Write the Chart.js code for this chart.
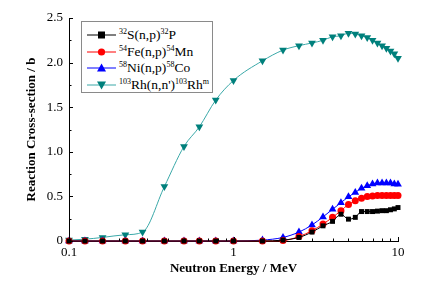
<!DOCTYPE html>
<html>
<head>
<meta charset="utf-8">
<script src="https://cdn.jsdelivr.net/npm/chart.js@4/dist/chart.umd.min.js"></script>
<style>
  html, body { margin: 0; padding: 0; background: #fff; }
  #wrap { position: relative; width: 436px; height: 284px; }
  #legend {
    position: absolute; left: 81px; top: 21px; width: 130px; height: 70px;
    border: 1px solid #8a8a8a; background: #fff;
    font-family: "Liberation Serif", "DejaVu Serif", serif; font-size: 13.5px; color: #000;
  }
  #legend .row { position: absolute; left: 0; height: 17px; line-height: 17px; white-space: nowrap; }
  #legend svg { position: absolute; left: 5px; top: 2px; }
  #legend .txt { position: absolute; left: 37px; top: 0; }
  #legend sup { font-size: 8px; vertical-align: 5px; line-height: 0; }
</style>
</head>
<body>
<div id="wrap">
  <canvas id="chart" width="436" height="284"></canvas>
  <div id="legend"></div>
</div>
<script>
(function(){
    // neutron energies (MeV)
    var energy = [0.1, 0.125, 0.16, 0.22, 0.28, 0.38, 0.5, 0.62, 0.78, 1.0,
                  1.5, 2.0, 2.5, 3.0, 3.5, 4.0, 4.5, 5.0, 5.5, 6.0, 6.5, 7.0, 7.5, 8.0, 8.5, 9.0, 9.5, 10.0];

    var s32 = [0, 0, 0, 0, 0, 0, 0, 0, 0, 0,
               0, 0.01, 0.04, 0.10, 0.17, 0.22, 0.30, 0.245, 0.265, 0.33, 0.33, 0.33, 0.335, 0.34, 0.34, 0.35, 0.36, 0.375];
    var fe54 = [0, 0, 0, 0, 0, 0, 0, 0, 0, 0,
                0, 0.005, 0.05, 0.115, 0.19, 0.265, 0.34, 0.41, 0.45, 0.48, 0.50, 0.505, 0.51, 0.51, 0.51, 0.51, 0.51, 0.51];
    var ni58 = [0, 0, 0, 0, 0, 0, 0, 0, 0, 0,
                0.01, 0.04, 0.10, 0.18, 0.27, 0.355, 0.43, 0.495, 0.545, 0.59, 0.62, 0.64, 0.65, 0.65, 0.65, 0.65, 0.64, 0.635];
    var rh103 = [0.01, 0.02, 0.04, 0.07, 0.10, 0.61, 1.06, 1.28, 1.58, 1.80,
                 2.02, 2.14, 2.19, 2.22, 2.25, 2.29, 2.30, 2.33, 2.32, 2.30, 2.28, 2.25, 2.22, 2.19, 2.16, 2.13, 2.10, 2.05];

    var seriesLabels = ['32S(n,p)32P', '54Fe(n,p)54Mn', '58Ni(n,p)58Co', "103Rh(n,n')103Rhm"];
    var legendHtml = ['<sup>32</sup>S(n,p)<sup>32</sup>P', '<sup>54</sup>Fe(n,p)<sup>54</sup>Mn',
                      '<sup>58</sup>Ni(n,p)<sup>58</sup>Co', "<sup>103</sup>Rh(n,n')<sup>103</sup>Rh<sup>m</sup>"];

    var xMajor = [0.1, 1, 10];
    var yMajor = [0, 0.5, 1.0, 1.5, 2.0, 2.5];

    function pts(ys) {
        return ys.map(function(y, i){ return {x: energy[i], y: y}; });
    }

    const serif = '"Liberation Serif", "DejaVu Serif", serif';

    const data = {
        datasets: [{
            label: seriesLabels[0],
            data: pts(s32),
            borderColor: '#000000',
            backgroundColor: '#000000',
            borderWidth: 1,
            pointStyle: 'rect',
            pointRadius: 3.5,
            pointBorderWidth: 0,
            cubicInterpolationMode: 'monotone',
            clip: false
        },{
            label: seriesLabels[1],
            data: pts(fe54),
            borderColor: '#ff0000',
            backgroundColor: '#ff0000',
            borderWidth: 1,
            pointStyle: 'circle',
            pointRadius: 3.5,
            pointBorderWidth: 0,
            cubicInterpolationMode: 'monotone',
            clip: false
        },{
            label: seriesLabels[2],
            data: pts(ni58),
            borderColor: '#0000ff',
            backgroundColor: '#0000ff',
            borderWidth: 1,
            pointStyle: 'triangle',
            pointRadius: 4.5,
            pointBorderWidth: 0,
            cubicInterpolationMode: 'monotone',
            clip: false
        },{
            label: seriesLabels[3],
            data: pts(rh103),
            borderColor: '#3aa8a8',
            backgroundColor: '#00807c',
            borderWidth: 1,
            pointStyle: 'triangle',
            pointRotation: 180,
            pointRadius: 4.5,
            pointBorderWidth: 0,
            cubicInterpolationMode: 'monotone',
            clip: false
        }]
    };

    // inward ticks like the original plot
    const innerTicks = {
        id: 'innerTicks',
        afterDraw(chart) {
            const ctx = chart.ctx;
            const xs = chart.scales.x, ys = chart.scales.y;
            const ca = chart.chartArea;
            ctx.save();
            ctx.strokeStyle = '#000';
            ctx.lineWidth = 1;
            ctx.beginPath();
            yMajor.forEach(function(v){
                const p = Math.round(ys.getPixelForValue(v)) + 0.5;
                ctx.moveTo(ca.left, p); ctx.lineTo(ca.left + 4, p);
            });
            for (let v = 0.25; v < 2.5; v += 0.5) {
                const p = Math.round(ys.getPixelForValue(v)) + 0.5;
                ctx.moveTo(ca.left, p); ctx.lineTo(ca.left + 2.5, p);
            }
            xMajor.forEach(function(v){
                const p = Math.round(xs.getPixelForValue(v)) + 0.5;
                ctx.moveTo(p, ca.bottom); ctx.lineTo(p, ca.bottom - 4);
            });
            [0.1, 1].forEach(function(d){
                for (let k = 2; k <= 9; k++) {
                    const p = Math.round(xs.getPixelForValue(d * k)) + 0.5;
                    ctx.moveTo(p, ca.bottom); ctx.lineTo(p, ca.bottom - 2.5);
                }
            });
            ctx.stroke();
            ctx.restore();
        }
    };

    const config = {
        type: 'line',
        data,
        options: {
            responsive: false,
            animation: false,
            layout: { padding: { left: 0, right: 38, top: 18, bottom: 0 } },
            scales: {
                x: {
                    type: 'logarithmic',
                    min: 0.1,
                    max: 10,
                    afterBuildTicks: function(scale){
                        scale.ticks = xMajor.map(function(v){ return {value: v}; });
                    },
                    afterFit: function(scale){ scale.height = 43; },
                    grid: { display: false, drawTicks: false },
                    border: { display: true, color: '#000', width: 1 },
                    ticks: {
                        color: '#000',
                        padding: 4,
                        maxRotation: 0,
                        autoSkip: false,
                        font: { family: serif, size: 13 },
                        callback: function(value){ return String(value); }
                    },
                    title: {
                        display: true,
                        text: 'Neutron Energy / MeV',
                        color: '#000',
                        font: { family: serif, size: 13, weight: 'bold' },
                        padding: { top: 0, bottom: 8 }
                    }
                },
                y: {
                    type: 'linear',
                    min: 0,
                    max: 2.5,
                    afterBuildTicks: function(scale){
                        scale.ticks = yMajor.map(function(v){ return {value: v}; });
                    },
                    afterFit: function(scale){ scale.width = 69; },
                    grid: { display: false, drawTicks: false },
                    border: { display: true, color: '#000', width: 1 },
                    ticks: {
                        color: '#000',
                        padding: 6,
                        font: { family: serif, size: 13 },
                        callback: function(value){ return value === 0 ? '0' : value.toFixed(1); }
                    },
                    title: {
                        display: true,
                        text: 'Reaction Cross-section / b',
                        color: '#000',
                        font: { family: serif, size: 13, weight: 'bold' },
                        padding: { top: 24, bottom: 0 }
                    }
                }
            },
            plugins: {
                legend: { display: false },
                tooltip: { enabled: false }
            }
        },
        plugins: [innerTicks]
    };

    const myChart = new Chart(document.getElementById('chart'), config);

    // legend with superscripts
    var legendEl = document.getElementById('legend');
    var markerSvg = [
        '<rect x="11" y="3.5" width="7" height="7" fill="#000"/>',
        '<circle cx="14.5" cy="7" r="3.6" fill="#ff0000"/>',
        '<polygon points="14.5,2.5 19,10.5 10,10.5" fill="#0000ff"/>',
        '<polygon points="10,3.5 19,3.5 14.5,11.5" fill="#00807c"/>'
    ];
    data.datasets.forEach(function(ds, i){
        var row = document.createElement('div');
        row.className = 'row';
        row.style.top = (4 + i * 16.5) + 'px';
        row.style.width = '128px';
        row.innerHTML = '<svg width="30" height="14"><line x1="0" y1="7" x2="29" y2="7" stroke="' +
            ds.borderColor + '" stroke-width="1"/>' + markerSvg[i] + '</svg>' +
            '<span class="txt">' + legendHtml[i] + '</span>';
        legendEl.appendChild(row);
    });
})();
</script>
</body>
</html>
